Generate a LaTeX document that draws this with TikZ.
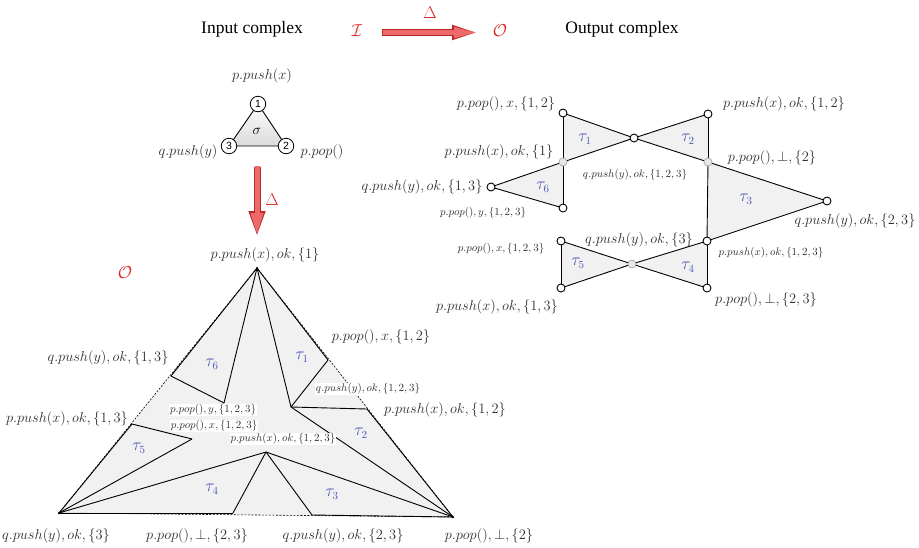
\documentclass[tikz,border=0pt]{standalone}
\usepackage{fontspec}
\setmainfont{Liberation Serif}
\newfontfamily\numfont{Liberation Sans}
\usetikzlibrary{arrows.meta,calc}
\definecolor{taublue}{RGB}{75,85,185}
\definecolor{deltared}{RGB}{220,40,40}
\definecolor{arrowfill}{RGB}{238,105,105}
\definecolor{arrowedge}{RGB}{185,40,40}
\definecolor{cellgray}{RGB}{241,241,241}
\definecolor{labgray}{RGB}{45,45,45}
\begin{document}
\begin{tikzpicture}[x=1pt,y=-1pt,
  lab/.style={font=\fontsize{13.4}{15}\selectfont, text=labgray, inner sep=0pt},
  slab/.style={font=\fontsize{11}{13}\selectfont, text=labgray, inner sep=0pt},
  wlab/.style={slab, fill=white, inner sep=1pt},
  headtxt/.style={font=\fontsize{17.5}{20}\selectfont, inner sep=0pt},
  redsym/.style={font=\fontsize{18}{20}\selectfont, text=deltared, inner sep=0pt},
  taulab/.style={font=\fontsize{16}{18}\selectfont, text=taublue, inner sep=0pt},
  cell/.style={fill=cellgray},
  edge/.style={line width=0.9pt, black},
  dashedge/.style={line width=0.6pt, black, dash pattern=on 2pt off 1.5pt},
  ov/.style={circle, draw=black, fill=white, line width=0.9pt, inner sep=0pt, minimum size=8pt},
  gv/.style={ov, draw=black!30, fill=black!9},
  iv/.style={circle, draw=black, fill=white, line width=0.8pt, inner sep=0pt, minimum size=15.5pt, font=\numfont\fontsize{10.5}{12}\selectfont},
  arrowout/.style={line width=6.5pt, draw=arrowedge},
  arrowin/.style={line width=4.5pt, draw=arrowfill},
  vdot/.style={circle, fill=black, inner sep=0pt, minimum size=2.5pt}
]
\useasboundingbox (0,0) rectangle (919,547);

% ---------------- header ----------------
\node[headtxt] (hin) at (252,29) {Input complex};
\node[headtxt] (hout) at (622,29) {Output complex};
\node[redsym] (calI) at (357,31) {$\mathcal{I}$};
\node[redsym] (calO) at (500,31) {$\mathcal{O}$};
\node[redsym] (dtop) at (430,13) {$\Delta$};
\coordinate (ha1) at (382,32.5);
\coordinate (ha2) at (479,32.5);
\draw[arrowout, -{Triangle[length=27pt,width=13pt]}] (ha1) -- (ha2);
\draw[arrowin, -{Triangle[length=23.5pt,width=10pt]}, shorten >=1.4pt] ([xshift=1pt]ha1) -- (ha2);

% ---------------- input complex ----------------
\coordinate (c1) at (258,104);
\coordinate (c2) at (286,146);
\coordinate (c3) at (229,146);
\shade[top color=black!1, bottom color=black!14] (c1) -- (c2) -- (c3) -- cycle;
\draw[edge] (c1) -- (c2) -- (c3) -- cycle;
\node[iv] (i1) at (c1) {1};
\node[iv] (i2) at (c2) {2};
\node[iv] (i3) at (c3) {3};
\node[font=\fontsize{14}{16}\selectfont, inner sep=0pt] (sig) at (257,131) {$\sigma$};
\node[lab] (li1) at (262,76) {$p.push(x)$};
\node[lab] (li3) at (188,152) {$q.push(y)$};
\node[lab] (li2) at (322,152) {$p.pop()$};
\coordinate (va1) at (257,167);
\coordinate (va2) at (257,237);
\draw[line width=7pt, draw=arrowedge, -{Triangle[length=26pt,width=15pt]}] (va1) -- (va2);
\draw[line width=5pt, draw=arrowfill, -{Triangle[length=22.5pt,width=11.5pt]}, shorten >=1.5pt] ([yshift=1pt]va1) -- (va2);
\node[redsym] (dleft) at (272,200) {$\Delta$};

% ---------------- big triangle (O) ----------------
\node[redsym] (calO2) at (125,273) {$\mathcal{O}$};
\coordinate (A) at (257,268);
\coordinate (B) at (59,513);
\coordinate (C) at (453,517);
\coordinate (L1) at (171,376);
\coordinate (L2) at (132,424);
\coordinate (R1) at (328,360);
\coordinate (R2) at (367,409);
\coordinate (D1) at (233,513);
\coordinate (D2) at (312,515);
\coordinate (M1) at (224,403);
\coordinate (M2) at (291,407);
\coordinate (M3) at (192,439);
\coordinate (M4) at (266,452);
\fill[cell] (A) -- (B) -- (C) -- cycle;
\draw[dashedge] (A) -- (B) -- (C) -- cycle;
\draw[edge] (A) -- (L1);
\draw[edge] (L2) -- (B);
\draw[edge] (A) -- (R1);
\draw[edge] (R2) -- (C);
\draw[edge] (B) -- (D1);
\draw[edge] (D2) -- (C);
\draw[edge] (A) -- (M1);
\draw[edge] (L1) -- (M1);
\draw[edge] (A) -- (M2);
\draw[edge] (M2) -- (R1);
\draw[edge] (M2) -- (R2);
\draw[edge] (M2) -- (C);
\draw[edge] (L2) -- (M3);
\draw[edge] (M3) -- (B);
\draw[edge] (B) -- (M4);
\draw[edge] (M4) -- (D1);
\draw[edge] (M4) -- (D2);
\draw[edge] (M4) -- (C);
\node[vdot] (dA) at (A) {};
\node[vdot] (dB) at (B) {};
\node[vdot] (dC) at (C) {};

\node[lab] (tA) at (265,255) {$p.push(x), ok, \{1\}$};
\node[lab] (tR1) at (381,337) {$p.pop(), x, \{1,2\}$};
\node[lab] (tL1) at (108,358) {$q.push(y), ok, \{1,3\}$};
\node[lab] (tL2) at (67,419) {$p.push(x), ok, \{1,3\}$};
\node[lab] (tR2) at (445,410) {$p.push(x), ok, \{1,2\}$};
\node[lab] (tB) at (56,536) {$q.push(y), ok, \{3\}$};
\node[lab] (tD1) at (197,536) {$p.pop(), \bot, \{2,3\}$};
\node[lab] (tD2) at (343,536) {$q.push(y), ok, \{2,3\}$};
\node[lab] (tC) at (489,536) {$p.pop(), \bot, \{2\}$};
\node[wlab] (tM1) at (213,410) {$p.pop(), y, \{1,2,3\}$};
\node[wlab] (tM3) at (214,426) {$p.pop(), x, \{1,2,3\}$};
\node[wlab] (tM4) at (283,439) {$p.push(x), ok, \{1,2,3\}$};
\node[wlab] (tM2) at (368,389) {$q.push(y), ok, \{1,2,3\}$};

\node[taulab] at (212,364) {$\tau_6$};
\node[taulab] at (302,357) {$\tau_1$};
\node[taulab] at (361,433) {$\tau_2$};
\node[taulab] at (139,448) {$\tau_5$};
\node[taulab] at (212,489) {$\tau_4$};
\node[taulab] at (332,494) {$\tau_3$};

% ---------------- output complex ----------------
\coordinate (P1) at (563,113);
\coordinate (Q)  at (634,138);
\coordinate (P2) at (708,114);
\coordinate (G1) at (563,162);
\coordinate (G2) at (708,162);
\coordinate (Lv) at (491,187);
\coordinate (B6) at (563,208);
\coordinate (R3) at (827,201);
\coordinate (V)  at (707,241);
\coordinate (T5) at (561,241);
\coordinate (G3) at (632,264);
\coordinate (B5) at (561,288);
\coordinate (B4) at (707,288);

\fill[cell] (P1) -- (G1) -- (Q) -- cycle;
\fill[cell] (Q) -- (P2) -- (G2) -- cycle;
\fill[cell] (Lv) -- (G1) -- (B6) -- cycle;
\fill[cell] (G2) -- (R3) -- (V) -- cycle;
\fill[cell] (T5) -- (G3) -- (B5) -- cycle;
\fill[cell] (G3) -- (V) -- (B4) -- cycle;

\draw[edge] (P1) -- (G1);
\draw[edge] (P1) -- (Q);
\draw[edge] (Q) -- (G2);
\draw[edge] (G1) -- (Q);
\draw[edge] (Q) -- (P2);
\draw[edge] (P2) -- (G2);
\draw[edge] (Lv) -- (G1);
\draw[edge] (Lv) -- (B6);
\draw[edge] (G1) -- (B6);
\draw[edge] (G2) -- (R3);
\draw[edge] (R3) -- (V);
\draw[edge] (G2) -- (V);
\draw[edge] (T5) -- (G3);
\draw[edge] (G3) -- (B4);
\draw[edge] (B5) -- (G3);
\draw[edge] (G3) -- (V);
\draw[edge] (T5) -- (B5);
\draw[edge] (V) -- (B4);

\node[ov] (nP1) at (P1) {};
\node[ov] (nQ)  at (Q) {};
\node[ov] (nP2) at (P2) {};
\node[gv] (nG1) at (G1) {};
\node[gv] (nG2) at (G2) {};
\node[ov] (nL)  at (Lv) {};
\node[ov] (nB6) at (B6) {};
\node[ov] (nR3) at (R3) {};
\node[ov] (nV)  at (V) {};
\node[ov] (nT5) at (T5) {};
\node[gv] (nG3) at (G3) {};
\node[ov] (nB5) at (B5) {};
\node[ov] (nB4) at (B4) {};

\node[lab] (oP1) at (506,104) {$p.pop(), x, \{1,2\}$};
\node[lab] (oP2) at (784,104) {$p.push(x), ok, \{1,2\}$};
\node[lab] (oG1) at (499,152) {$p.push(x), ok, \{1\}$};
\node[lab] (oG2) at (772,158) {$p.pop(), \bot, \{2\}$};
\node[slab] (oQ) at (635,175) {$q.push(y), ok, \{1,2,3\}$};
\node[lab] (oL) at (422,187) {$q.push(y), ok, \{1,3\}$};
\node[slab] (oB6) at (483,213) {$p.pop(), y, \{1,2,3\}$};
\node[lab] (oR3) at (855,221) {$q.push(y), ok, \{2,3\}$};
\node[lab] (oV) at (639,240) {$q.push(y), ok, \{3\}$};
\node[slab] (oT5) at (501,249) {$p.pop(), x, \{1,2,3\}$};
\node[slab] (oVb) at (771,253) {$p.push(x), ok, \{1,2,3\}$};
\node[lab] (oB5) at (497,307) {$p.push(x), ok, \{1,3\}$};
\node[lab] (oB4) at (766,300) {$p.pop(), \bot, \{2,3\}$};

\node[taulab] at (585,139) {$\tau_1$};
\node[taulab] at (688,139) {$\tau_2$};
\node[taulab] at (543,187) {$\tau_6$};
\node[taulab] at (746,199) {$\tau_3$};
\node[taulab] at (578,263) {$\tau_5$};
\node[taulab] at (688,267) {$\tau_4$};
\end{tikzpicture}
\end{document}
